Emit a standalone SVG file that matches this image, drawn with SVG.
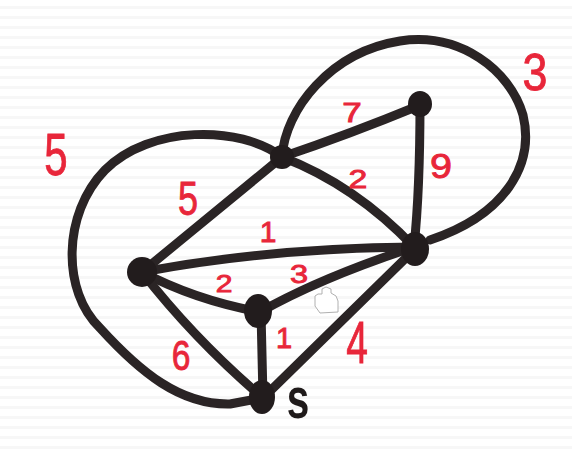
<svg xmlns="http://www.w3.org/2000/svg" width="572" height="456" viewBox="0 0 572 456">
<style>
.e{fill:none;stroke:#2a2425;stroke-width:9;stroke-linecap:round;stroke-linejoin:round}
.n{fill:#221c1d}
.w{font-family:"Liberation Sans",Arial,sans-serif;fill:#e8263a;stroke:#e8263a;stroke-width:0.9;text-anchor:middle}
.s{font-family:"Liberation Sans",Arial,sans-serif;fill:#1f1a1a;font-weight:bold;text-anchor:middle}
</style>
<defs>
<pattern id="paper" width="10" height="10" patternUnits="userSpaceOnUse">
<rect width="10" height="10" fill="#ffffff"/>
<rect y="6" width="10" height="3" fill="#f7f7f7"/>
</pattern>
</defs>
<rect width="572" height="456" fill="url(#paper)"/>
<g id="connectors">
<path class="e" d="M282,157 C240,125 150,125 105,170 C62,214 62,292 100,328 C140,372 180,405 230,404 L262,398"/>
<path class="e" d="M282,157 C285,110 330,52 400,41 C460,32 510,70 523,115 C535,165 505,215 430,240"/>
<path class="e" d="M282,157 Q350,134 418,106"/>
<path class="e" d="M420,103 Q420,190 414,247"/>
<path class="e" d="M282,157 Q355,185 414,247"/>
<path class="e" d="M142,272 L282,157"/>
<path class="e" d="M142,272 Q270,248 414,247"/>
<path class="e" d="M142,272 Q195,300 260,312"/>
<path class="e" d="M260,312 Q320,278 414,247"/>
<path class="e" d="M261,312 L263,398"/>
<path class="e" d="M263,398 L414,250"/>
<path class="e" d="M142,272 Q195,340 263,398"/>
</g>
<g id="node-a"><ellipse class="n" cx="282" cy="157" rx="12" ry="12"/></g>
<g id="node-b"><ellipse class="n" cx="420" cy="104" rx="12" ry="13"/></g>
<g id="node-c"><ellipse class="n" cx="415" cy="249" rx="14" ry="17"/></g>
<g id="node-d"><ellipse class="n" cx="142" cy="272" rx="15" ry="15"/></g>
<g id="node-e"><ellipse class="n" cx="258" cy="311" rx="14" ry="17"/></g>
<g id="node-s"><ellipse class="n" cx="262" cy="397" rx="13" ry="17"/>
<text class="s" font-size="58" transform="translate(298,418) scale(0.7,1)">s</text></g>
<g id="labels">
<text class="w" font-size="60" transform="translate(56,174.5) scale(0.7,1)">5</text>
<text class="w" font-size="48" transform="translate(188,214.5) scale(0.75,1)">5</text>
<text class="w" font-size="30" transform="translate(268,242)">1</text>
<text class="w" font-size="24" transform="translate(224,292) scale(1.25,1)">2</text>
<text class="w" font-size="25" transform="translate(299,283) scale(1.3,1)">3</text>
<text class="w" font-size="29" transform="translate(284,348)">1</text>
<text class="w" font-size="42" transform="translate(181,370) scale(0.8,1)">6</text>
<text class="w" font-size="60" transform="translate(357,363) scale(0.65,1)">4</text>
<text class="w" font-size="28" transform="translate(352,122) scale(1.25,1)">7</text>
<text class="w" font-size="25" transform="translate(358,188) scale(1.35,1)">2</text>
<text class="w" font-size="36" transform="translate(441,178) scale(1.1,1)">9</text>
<text class="w" font-size="52" transform="translate(535,90) scale(0.86,1)">3</text>
</g>
<path d="M318,294 L322,294 L322,289 L326,287 L331,289 L331,293 L336,296 L338,301 L338,312 L320,313 L315,306 L315,296 Z" fill="#ffffff" stroke="#b0b0b0" stroke-width="1"/>
</svg>
